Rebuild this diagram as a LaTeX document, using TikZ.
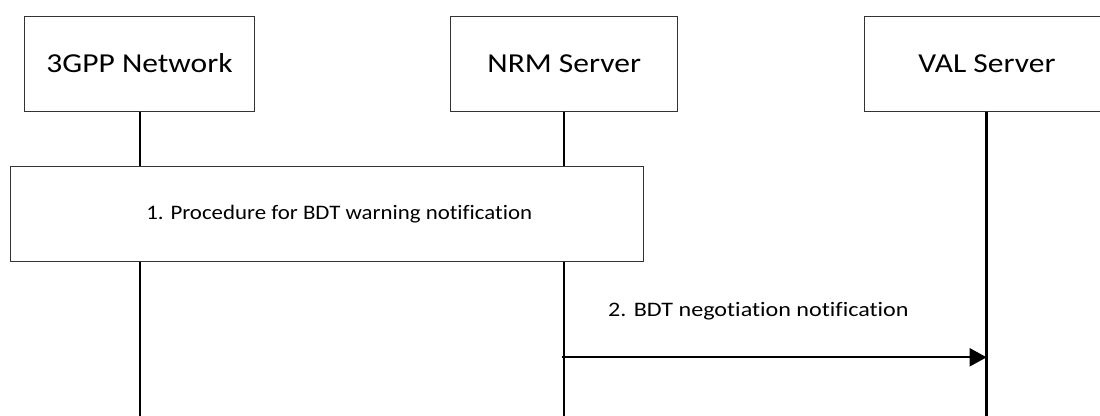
\documentclass[tikz,border=0pt]{standalone}
\usepackage{fontspec}
\setmainfont{Carlito}
\newfontfamily\titlefont[FakeStretch=1.15]{Carlito}
\newfontfamily\labelfont[FakeStretch=1.11,Ligatures=NoCommon]{Carlito}
\newfontfamily\msgfont[FakeStretch=1.17,Ligatures=NoCommon]{Carlito}
\usetikzlibrary{arrows.meta}
\begin{document}
\begin{tikzpicture}[x=1pt,y=-1pt,
  entity/.style={draw=black!80, line width=1pt, fill=white, minimum width=230pt,
    minimum height=95pt, inner sep=0pt, font=\titlefont\fontsize{27.4}{30}\selectfont},
  proc/.style={draw=black!80, line width=1pt, fill=white, minimum width=632.5pt,
    minimum height=94.3pt, inner sep=0pt, font=\labelfont\fontsize{20.6}{24}\selectfont},
  lifeline/.style={line width=2.3pt, draw=black},
  msg/.style={line width=2.3pt, draw=black, -{Triangle[length=17pt,width=18pt]}},
  lbl/.style={inner sep=0pt, font=\msgfont\fontsize{20.6}{24}\selectfont}]
\useasboundingbox (0,0) rectangle (1100,415);
% entities
\node[entity] (net) at (139.5,63.5) {3GPP Network};
\node[entity, minimum width=226.5pt] (nrm) at (564.2,63.5) {NRM Server};
\node[entity, minimum width=246pt] (val) at (987,63.5) {VAL Server};
% lifeline ends
\coordinate (netend) at (139.7,416);
\coordinate (nrmend) at (564,416);
\coordinate (valend) at (986.6,416);
\draw[lifeline] (net.south -| netend) -- (netend);
\draw[lifeline] (nrm.south -| nrmend) -- (nrmend);
\draw[lifeline] (val.south -| valend) -- (valend);
% procedure box
\node[proc] (p1) at (326.75,213.85) {\hspace*{25pt}1. Procedure for BDT warning notification};
% message
\coordinate (a1) at (561.7,357.3);
\coordinate (a2) at (986.6,357.3);
\draw[msg] (a1) -- (a2);
\node[lbl, anchor=base west] (m2) at (608,316) {2. BDT negotiation notification};
\end{tikzpicture}
\end{document}
